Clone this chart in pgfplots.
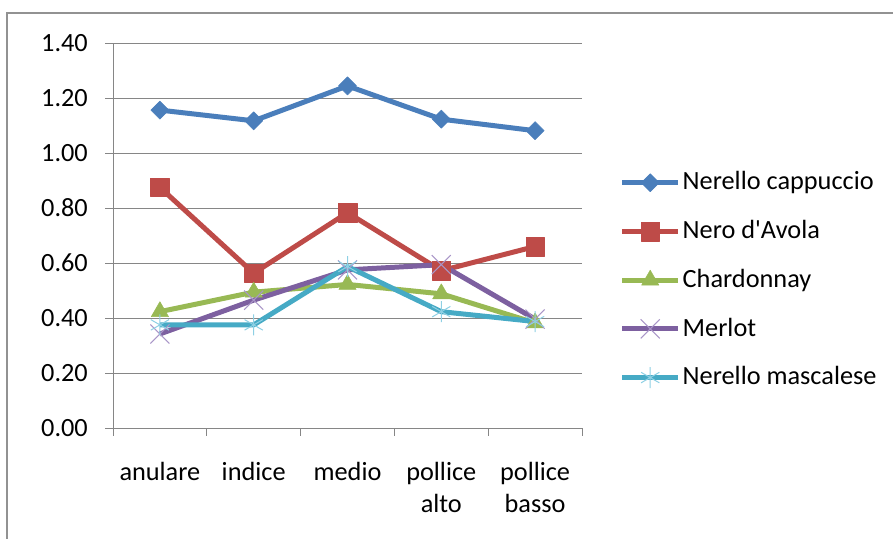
\documentclass[border=0pt]{standalone}
\usepackage{fontspec}
\setmainfont{Carlito}
\usepackage{pgfplots}
\pgfplotsset{compat=1.18}

\definecolor{cBlue}{HTML}{4A7EBB}
\definecolor{cRed}{HTML}{BE4B48}
\definecolor{cGreen}{HTML}{98B954}
\definecolor{cPurple}{HTML}{7D60A0}
\definecolor{cPurpleL}{HTML}{A996C8}
\definecolor{cCyan}{HTML}{46AAC5}
\definecolor{cCyanL}{HTML}{8ED0E4}
\definecolor{cAxis}{HTML}{868686}

\newcommand{\lblfont}{\fontsize{26.4}{32}\selectfont}

\begin{document}
\lblfont
\begin{tikzpicture}
\useasboundingbox (0,0) rectangle (893bp,539bp);
% outer chart frame
\draw[cAxis!90, line width=1.2bp] (7bp,0) -- (7bp,526bp) -- (893bp,526bp);
\begin{axis}[
  at={(113bp,111bp)}, anchor=south west,
  scale only axis, width=469bp, height=385bp,
  xmin=-0.5, xmax=4.5, ymin=0, ymax=1.4,
  axis x line*=bottom, axis y line*=left,
  axis line style={-, draw=cAxis, line width=0.9bp},
  tick align=outside,
  xtick={0,1,2,3,4},
  xticklabels={anulare, indice, medio, {pollice\\alto}, {pollice\\basso}},
  major x tick style={draw=none},
  minor xtick={-0.5,0.5,...,4.5},
  minor tick length=8bp,
  minor x tick style={draw=cAxis, line width=0.9bp},
  ytick={0,0.2,...,1.4},
  major tick length=8bp,
  y tick style={draw=cAxis, line width=0.9bp},
  ymajorgrids,
  grid style={draw=cAxis, line width=0.9bp},
  yticklabel style={font=\lblfont, inner sep=4bp, xshift=-13bp, /pgf/number format/fixed, /pgf/number format/fixed zerofill, /pgf/number format/precision=2},
  /pgf/number format/assume math mode=true,
  xticklabel style={font=\lblfont, inner sep=4bp, align=center, yshift=-22bp},
  legend style={at={(1.08,0.384)}, anchor=west, draw=none, fill=none,
    font=\lblfont, row sep=22.5bp, inner sep=0pt,
    nodes={inner sep=2bp}},
  legend cell align=left,
  legend image code/.code={\draw[mark repeat=2,mark phase=2,#1] plot coordinates {(0bp,0bp) (28bp,0bp) (56bp,0bp)};},
  every axis plot/.append style={line width=5bp, line join=round},
  clip=false,
]
\addplot[cBlue, mark=square*, mark size=6.4bp, mark options={solid, rotate=45, fill=cBlue, line width=0.5bp}]
  coordinates {(0,1.156) (1,1.117) (2,1.244) (3,1.123) (4,1.081)};
\addlegendentry{Nerello cappuccio}
\addplot[cRed, mark=square*, mark size=9.3bp, mark options={solid, fill=cRed, line width=0.5bp}]
  coordinates {(0,0.875) (1,0.563) (2,0.783) (3,0.572) (4,0.660)};
\addlegendentry{Nero d\textquotesingle Avola}
\addplot[cGreen, mark=triangle*, mark size=10bp, mark options={solid, fill=cGreen, line width=0.5bp}]
  coordinates {(0,0.423) (1,0.494) (2,0.522) (3,0.488) (4,0.382)};
\addlegendentry{Chardonnay}
\addplot[cPurple, mark=x, mark size=13.5bp, mark options={solid, draw=cPurpleL, line width=1bp}]
  coordinates {(0,0.342) (1,0.465) (2,0.575) (3,0.594) (4,0.396)};
\addlegendentry{Merlot}
\addplot[cCyan, mark=asterisk, mark size=10.5bp, mark options={solid, draw=cCyanL, line width=1bp}]
  coordinates {(0,0.375) (1,0.375) (2,0.587) (3,0.423) (4,0.387)};
\addlegendentry{Nerello mascalese}
\end{axis}
\end{tikzpicture}
\end{document}
